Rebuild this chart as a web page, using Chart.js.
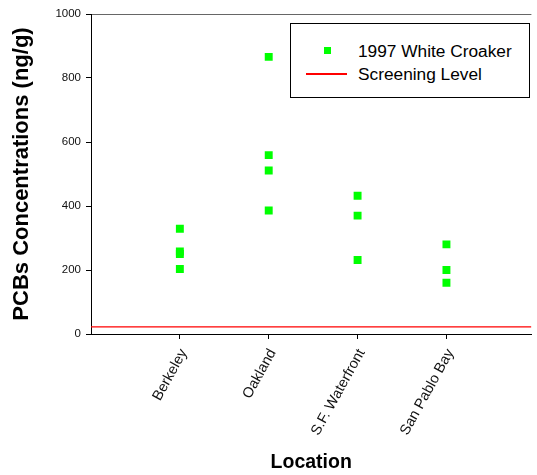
<!DOCTYPE html>
<html>
<head>
<meta charset="utf-8">
<script src="https://cdn.jsdelivr.net/npm/chart.js@4.4.1/dist/chart.umd.min.js"></script>
<style>
    html, body { margin: 0; padding: 0; background: #fff; }
    #wrap { position: relative; width: 537px; height: 475px; }
    #legend {
        position: absolute; left: 290px; top: 23px; width: 238px; height: 73px;
        border: 1px solid #000; background: #fff;
        font-family: Arial, "Liberation Sans", sans-serif; font-size: 17.3px; color: #000;
    }
    #legend .item { position: absolute; left: 0; height: 20px; line-height: 20px; }
    #legend .text { position: absolute; left: 67px; white-space: nowrap; }
</style>
</head>
<body>
<div id="wrap">
    <canvas id="chart" width="537" height="475"></canvas>
    <div id="legend"></div>
</div>
<script>
// Данные
const locations = ['Berkeley', 'Oakland', 'S.F. Waterfront', 'San Pablo Bay'];
const berkeley = [329, 258, 250, 203];
const oakland = [866, 559, 511, 386];
const sfWaterfront = [432, 370, 231];
const sanPablo = [280, 200, 160];
const screeningLevel = 22;
const yTicks = [0, 200, 400, 600, 800, 1000];

const seriesLabels = ['1997 White Croaker', 'Screening Level'];
const croakerColor = '#00ff00';
const screeningColor = '#ff0000';

// точки: x = номер участка (1..4)
const croakerPoints = [berkeley, oakland, sfWaterfront, sanPablo]
    .flatMap((vals, i) => vals.map(v => ({ x: i + 1, y: v })));

const xMax = 4.956;

const ctx = document.getElementById('chart');

const chart = new Chart(ctx, {
    type: 'scatter',
    data: {
        datasets: [
            {
                label: seriesLabels[0],
                data: croakerPoints,
                pointStyle: 'rect',
                pointRadius: 5.6,
                pointHoverRadius: 5.6,
                backgroundColor: croakerColor,
                borderColor: croakerColor,
                borderWidth: 0
            },
            {
                label: seriesLabels[1],
                type: 'line',
                data: [{ x: 0, y: screeningLevel }, { x: xMax, y: screeningLevel }],
                borderColor: screeningColor,
                borderWidth: 1.2,
                pointRadius: 0,
                fill: false
            }
        ]
    },
    options: {
        responsive: false,
        animation: false,
        layout: { padding: { top: 14, right: 0, left: 0, bottom: 0 } },
        plugins: {
            legend: { display: false },
            tooltip: { enabled: false }
        },
        scales: {
            x: {
                type: 'linear',
                min: 0,
                max: xMax,
                afterBuildTicks(scale) {
                    scale.ticks = locations.map((_, i) => ({ value: i + 1 }));
                },
                afterFit(scale) { scale.height = 141; },
                ticks: {
                    autoSkip: false,
                    minRotation: 61,
                    maxRotation: 61,
                    padding: 7,
                    labelOffset: 4,
                    color: '#111',
                    font: { family: 'Arial, "Liberation Sans", sans-serif', size: 14.5 },
                    callback: (value) => locations[value - 1]
                },
                grid: {
                    drawOnChartArea: false,
                    color: '#000',
                    tickLength: 5
                },
                border: { color: '#000', width: 1 },
                title: {
                    display: true,
                    text: 'Location',
                    color: '#000',
                    padding: { top: 0, bottom: 1 },
                    font: { family: 'Arial, "Liberation Sans", sans-serif', size: 19.5, weight: 'bold' }
                }
            },
            y: {
                min: 0,
                max: 1000,
                afterBuildTicks(scale) {
                    scale.ticks = yTicks.map(v => ({ value: v }));
                },
                afterFit(scale) { scale.width = 91; },
                ticks: {
                    padding: 5,
                    color: '#111',
                    font: { family: 'Arial, "Liberation Sans", sans-serif', size: 11.5 },
                    callback: (value) => String(value)
                },
                grid: {
                    color: (c) => c.tick && c.tick.value === 1000 ? '#666' : 'rgba(0,0,0,0)',
                    tickColor: '#000',
                    tickLength: 5
                },
                border: { color: '#000', width: 1 },
                title: {
                    display: true,
                    text: 'PCBs Concentrations (ng/g)',
                    color: '#000',
                    padding: { top: 9, bottom: 0 },
                    font: { family: 'Arial, "Liberation Sans", sans-serif', size: 22, weight: 'bold' }
                }
            }
        }
    }
});

// Легенда внутри области графика
function renderLegend() {
    const box = document.getElementById('legend');
    box.innerHTML = `
        <div class="item" style="top:17px;width:100%">
            <span style="position:absolute;left:33px;top:6px;width:7px;height:7px;background:${croakerColor}"></span>
            <span class="text">${seriesLabels[0]}</span>
        </div>
        <div class="item" style="top:40px;width:100%">
            <span style="position:absolute;left:15px;top:9px;width:41px;height:1.5px;background:${screeningColor}"></span>
            <span class="text">${seriesLabels[1]}</span>
        </div>
    `;
}
renderLegend();
</script>
</body>
</html>
